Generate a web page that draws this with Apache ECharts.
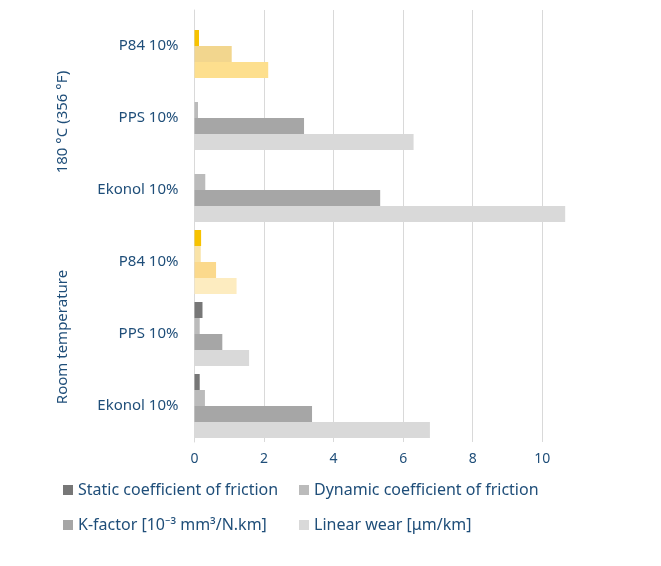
<!DOCTYPE html><html><head><meta charset="utf-8"><script src="https://cdn.jsdelivr.net/npm/echarts@6/dist/echarts.min.js"></script>
<style>html,body{margin:0;background:#fff}#c{width:661px;height:566px}</style></head><body><div id="c"></div>
<script>
const categories=['Ekonol 10%','PPS 10%','P84 10%','Ekonol 10%','PPS 10%','P84 10%'];
const staticCoef=[0.15,0.23,0.19,0,0,0];
const dynamicCoef=[0.3,0.15,0.18,0.31,0.1,0.13];
const kFactor=[3.38,0.8,0.62,5.34,3.15,1.07];
const linearWear=[6.77,1.57,1.21,10.66,6.3,2.12];
const groups=['Room temperature','180 °C (356 °F)'];
const names=['Static coefficient of friction','Dynamic coefficient of friction','K-factor [10⁻³ mm³/N.km]','Linear wear [μm/km]'];
const colors=['#777777','#bbbbbb','#a6a6a6','#d9d9d9'];
const yellowRT=['#f7c200','#f9e3a8','#fbd98c','#fdecc0'];
const yellowHT=['#f7c200','#f7c200','#f2d68e','#fddf8e'];
const blue='#1f4e79';
function mk(vals,i){return vals.map((v,j)=>j===2?{value:v,itemStyle:{color:yellowRT[i]}}:j===5?{value:v,itemStyle:{color:yellowHT[i]}}:v);}
const series=[[staticCoef,0],[dynamicCoef,1],[kFactor,2],[linearWear,3]].map(([v,i])=>({name:names[i],type:'bar',data:mk(v,i),barWidth:16,barGap:'0%',itemStyle:{color:colors[i]}}));
function lg(i,left,top){return {data:[names[i]],left:left,top:top,itemWidth:10,itemHeight:10,itemGap:6,icon:'rect',textStyle:{color:blue,fontSize:16,fontFamily:'Noto Sans'},selectedMode:false};}
const chart=echarts.init(document.getElementById('c'));
chart.setOption({animation:false,
grid:{left:194.5,right:84,top:10,bottom:124,containLabel:false},
xAxis:{type:'value',min:0,max:11,interval:2,axisLine:{show:false},axisTick:{show:false},
 splitLine:{show:true,showMaxLine:false,lineStyle:{color:'#d9d9d9'}},
 axisLabel:{showMaxLabel:false,color:blue,fontSize:14,fontFamily:'Noto Sans',margin:10}},
yAxis:{type:'category',data:categories,axisLine:{show:true,lineStyle:{color:'#d9d9d9'}},axisTick:{show:false},
 axisLabel:{color:blue,fontSize:15,fontFamily:'Noto Sans',margin:16}},
legend:[lg(0,58,477),lg(1,294,477),lg(2,58,512),lg(3,294,512)],
graphic:[{type:'text',x:63,y:337,rotation:Math.PI/2,style:{text:groups[0],fill:blue,fontSize:15,fontFamily:'Noto Sans',align:'center',verticalAlign:'middle'}},
{type:'text',x:63,y:122,rotation:Math.PI/2,style:{text:groups[1],fill:blue,fontSize:15,fontFamily:'Noto Sans',align:'center',verticalAlign:'middle'}}],
series:series});
</script></body></html>
